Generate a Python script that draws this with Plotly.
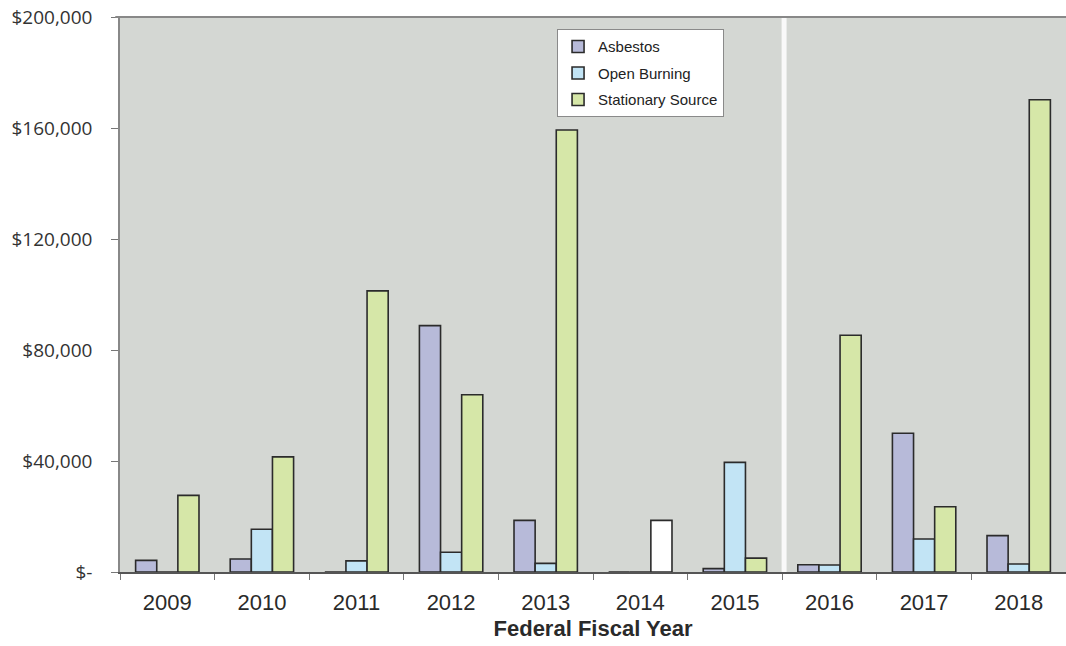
import plotly.graph_objects as go

years = ["2009", "2010", "2011", "2012", "2013", "2014", "2015", "2016", "2017", "2018"]
asbestos = [4200, 4700, 0, 88800, 18600, 0, 1200, 2600, 50000, 13100]
open_burning = [0, 15400, 4000, 7100, 3100, 0, 39500, 2500, 11900, 2900]
stationary = [27600, 41500, 101300, 63900, 159300, 18600, 5000, 85300, 23500, 170200]

y_tick_vals = [0, 40000, 80000, 120000, 160000, 200000]
y_tick_text = ["$-", "$40,000", "$80,000", "$120,000", "$160,000", "$200,000"]

c_asb = "#b7bad9"
c_open = "#c2e4f5"
c_stat = "#d6e7a8"
stat_colors = [("#ffffff" if y == "2014" else c_stat) for y in years]
outline = dict(color="#2b2b2b", width=1.6)

fig = go.Figure()
fig.add_trace(go.Bar(name="Asbestos", x=years, y=asbestos, legendgroup="a",
                     marker=dict(color=c_asb, line=outline)))
fig.add_trace(go.Bar(name="Open Burning", x=years, y=open_burning, legendgroup="b",
                     marker=dict(color=c_open, line=outline)))
fig.add_trace(go.Bar(name="Stationary Source", x=years, y=stationary, legendgroup="c",
                     marker=dict(color=stat_colors, line=outline)))

# scan artifact: bright vertical streak
fig.add_shape(type="line", xref="x", yref="paper", x0=6.52, x1=6.52, y0=0, y1=1,
              line=dict(color="rgba(255,255,255,0.85)", width=5), layer="above")

fig.update_layout(
    width=1066, height=646,
    margin=dict(l=120, r=0, t=17, b=74, autoexpand=False),
    paper_bgcolor="white",
    plot_bgcolor="#d4d7d3",
    barmode="group",
    bargap=0.33,
    bargroupgap=0,
    showlegend=True,
    legend=dict(x=0.462, y=0.978, xanchor="left", yanchor="top",
                bgcolor="white", bordercolor="#8a8a8a", borderwidth=1,
                font=dict(family="Liberation Sans, Arial", size=15, color="#222"),
                itemwidth=30, traceorder="grouped", tracegroupgap=4),
    font=dict(family="Liberation Sans, Arial", color="#222"),
)
fig.update_xaxes(
    type="category",
    tickson="boundaries",
    ticks="outside", ticklen=6, tickcolor="#777",
    ticklabelstandoff=10,
    showline=True, linecolor="#555", linewidth=2,
    tickfont=dict(family="Liberation Sans, Arial", size=22, color="#2a2a2a"),
    title=dict(text="<b>Federal Fiscal Year</b>", standoff=6,
               font=dict(family="Liberation Sans, Arial", size=22, color="#2a2a2a")),
    showgrid=False,
)
fig.update_yaxes(
    range=[0, 200000],
    tickvals=y_tick_vals, ticktext=y_tick_text,
    ticks="outside", ticklen=7, tickcolor="#777",
    ticklabelstandoff=15,
    ticklabeloverflow="allow",
    showline=True, linecolor="#888", linewidth=1.5,
    showgrid=False, zeroline=False,
    tickfont=dict(family="Open Sans, Liberation Sans", size=19, color="#333"),
)
# top border line of plot area
fig.add_shape(type="line", xref="paper", yref="paper", x0=-0.005, x1=1, y0=1, y1=1,
              line=dict(color="#888", width=2))

fig.write_html("out.html",
               config={"displayModeBar": False},
               post_script="document.body.style.margin='0';document.body.style.overflow='hidden';")
